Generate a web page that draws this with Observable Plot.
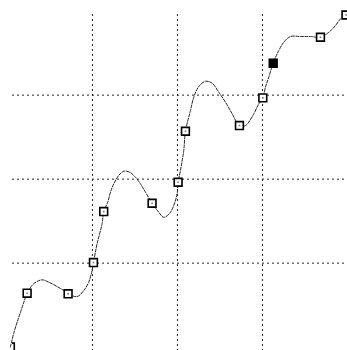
<!DOCTYPE html>
<html><head><meta charset="utf-8">
<script src="https://cdn.jsdelivr.net/npm/d3@7"></script>
<script src="https://cdn.jsdelivr.net/npm/@observablehq/plot@0.6"></script>
<style>body{margin:0;background:#fff}</style>
</head><body><div id="chart"></div>
<script>
// marker points
const xs = [0.035, 0.232, 0.714, 1.012, 1.133, 1.702, 2.008, 2.094, 2.729, 3.004, 3.126, 3.682, 3.982];
const ys = [0.001, 0.642, 0.635, 1.007, 1.614, 1.713, 1.963, 2.57, 2.638, 2.968, 3.38, 3.689, 3.954];
const filled = [false,false,false,false,false,false,false,false,false,false,true,false,false];
// traced curve
const curveX = [0.035,0.074,0.114,0.161,0.2,0.232,0.309,0.408,0.486,0.585,0.662,0.714,0.82,0.898,0.956,0.996,1.012,1.055,1.114,1.133,1.18,1.212,1.251,1.309,1.368,1.439,1.506,1.565,1.624,1.702,1.78,1.839,1.909,1.956,1.996,2.008,2.035,2.074,2.094,2.153,2.192,2.251,2.329,2.408,2.486,2.565,2.644,2.729,2.8,2.898,2.956,3.004,3.035,3.074,3.126,3.192,3.251,3.329,3.447,3.565,3.682,3.78,3.859,3.918,3.982];
const curveY = [0.001,0.162,0.296,0.436,0.555,0.642,0.754,0.801,0.773,0.721,0.674,0.635,0.602,0.674,0.773,0.912,1.007,1.23,1.471,1.614,1.725,1.844,1.944,2.043,2.094,2.082,2.023,1.944,1.844,1.713,1.606,1.546,1.594,1.686,1.825,1.963,2.102,2.34,2.57,2.817,2.975,3.102,3.165,3.142,3.035,2.915,2.777,2.638,2.638,2.777,2.896,2.968,3.094,3.213,3.38,3.531,3.63,3.698,3.698,3.698,3.689,3.749,3.829,3.908,3.954];
const gridTicks = [1, 2, 3];
const xDomain = [0.06, 4];
const yDomain = [-0.04, 3.96];
const points = xs.map((x, i) => ({x, y: ys[i], f: filled[i], i}));
const curve = curveX.map((x, i) => ({x, y: curveY[i]}));
const edge = d => d.i === 0;
const inner = d => d.i !== 0;
const dotOpts = {x: "x", y: "y", symbol: "square", r: 4.4, stroke: "#000", strokeWidth: 1.6, fill: d => d.f ? "#000" : "#fff"};
const chart = Plot.plot({
  width: 347, height: 350,
  marginLeft: 12, marginRight: 0, marginTop: 14, marginBottom: 0,
  x: {domain: xDomain, axis: null},
  y: {domain: yDomain, axis: null},
  marks: [
    Plot.gridX(gridTicks, {stroke: "#222", strokeOpacity: 1, strokeDasharray: "2,3"}),
    Plot.gridY(gridTicks, {stroke: "#222", strokeOpacity: 1, strokeDasharray: "2,3"}),
    Plot.line(curve, {x: "x", y: "y", curve: "catmull-rom", stroke: "#222", strokeWidth: 1, strokeDasharray: "3,1.5"}),
    Plot.dot(points.filter(edge), {...dotOpts, clip: true}),
    Plot.dot(points.filter(inner), dotOpts),
    Plot.dot(points.filter(d => !d.f && d.i !== 0), {x: "x", y: "y", symbol: "square", r: 0.9, fill: "#777"})
  ]
});
document.getElementById("chart").append(chart);
</script></body></html>
